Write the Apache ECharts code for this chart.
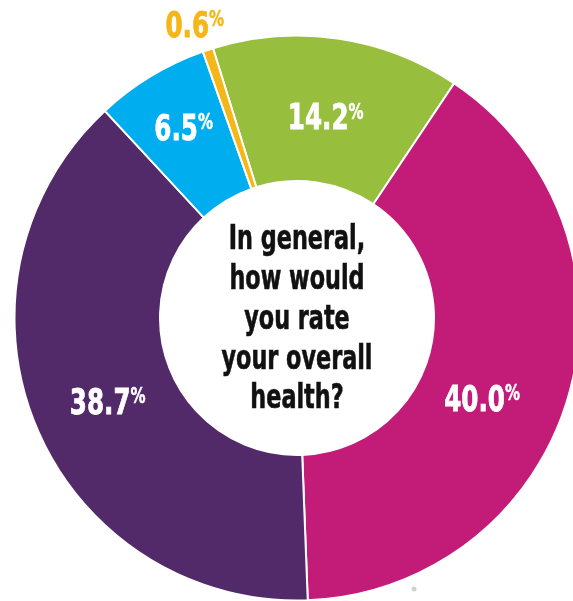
<!DOCTYPE html>
<html>
<head>
<meta charset="utf-8">
<script src="https://cdn.jsdelivr.net/npm/echarts@6/dist/echarts.min.js"></script>
<style>
  html, body { margin: 0; padding: 0; background: #ffffff; }
  #chart { width: 573px; height: 601px; }
</style>
</head>
<body>
<div id="chart"></div>
<script>
// Self-rated overall health, share of respondents (%)
const categories = ['Excellent', 'Very good', 'Good', 'Fair', 'Poor'];
const shares = [14.2, 40.0, 38.7, 6.5, 0.6];
const sliceColors = ['#97be3d', '#c21c78', '#532a69', '#00aeef', '#f5b617'];
const centerLines = ['In general,', 'how would', 'you rate', 'your overall', 'health?'];

const FONT = '"DejaVu Sans Condensed", "DejaVu Sans", sans-serif';
// narrow the condensed face a little further for a tight display look
const SQUEEZE = 0.76;

// value-label placement per slice: distance from the centre and a small
// angular nudge (degrees, clockwise) off the slice's mid angle
const labelRadius = [200, 203, 208, 219, 308];
const labelNudge = [0, 8.4, -2, 0, -1];
const labelInk = ['#ffffff', '#ffffff', '#ffffff', '#ffffff', '#f5b617'];

const chart = echarts.init(document.getElementById('chart'), null, { renderer: 'canvas' });

chart.setOption({
  animation: false,
  backgroundColor: '#ffffff',
  series: [{
    type: 'pie',
    center: [297, 318],
    radius: [137, 282.5],
    startAngle: 107.3,
    clockwise: true,
    itemStyle: { borderColor: '#ffffff', borderWidth: 2 },
    label: { show: false },
    labelLine: { show: false },
    emphasis: { disabled: true },
    data: categories.map((name, i) => ({
      name: name,
      value: shares[i],
      itemStyle: { color: sliceColors[i] }
    }))
  }]
});

// place the value labels from the laid-out sectors
const pieData = chart.getModel().getSeriesByIndex(0).getData();
const labelGraphics = shares.map((v, i) => {
  const lay = pieData.getItemLayout(i);
  const mid = (lay.startAngle + lay.endAngle) / 2 + labelNudge[i] * Math.PI / 180;
  const ink = labelInk[i];
  return {
    type: 'text',
    z: 100,
    x: lay.cx + Math.cos(mid) * labelRadius[i],
    y: lay.cy + Math.sin(mid) * labelRadius[i],
    scaleX: SQUEEZE,
    silent: true,
    style: {
      text: '{v|' + v.toFixed(1) + '}{p|%}',
      align: 'center',
      verticalAlign: 'middle',
      rich: {
        v: {
          fontFamily: FONT, fontWeight: 'bold', fontSize: 36,
          lineHeight: 36, fill: ink, stroke: ink, lineWidth: 0.8
        },
        p: {
          fontFamily: FONT, fontWeight: 'bold', fontSize: 22,
          lineHeight: 24, verticalAlign: 'top', fill: ink, stroke: ink, lineWidth: 0.5
        }
      }
    }
  };
});

chart.setOption({
  graphic: labelGraphics.concat([
    {
      type: 'text',
      z: 100,
      x: 297,
      y: 320,
      scaleX: 0.73,
      silent: true,
      style: {
        text: centerLines.join('\n'),
        align: 'center',
        verticalAlign: 'middle',
        fontFamily: FONT,
        fontWeight: 'bold',
        fontSize: 34,
        lineHeight: 39.7,
        fill: '#111111',
        stroke: '#111111',
        lineWidth: 0.6
      }
    },
    {
      type: 'circle',
      z: 100,
      silent: true,
      shape: { cx: 414, cy: 589, r: 2.5 },
      style: { fill: '#d0d0d0' }
    }
  ])
});
</script>
</body>
</html>
